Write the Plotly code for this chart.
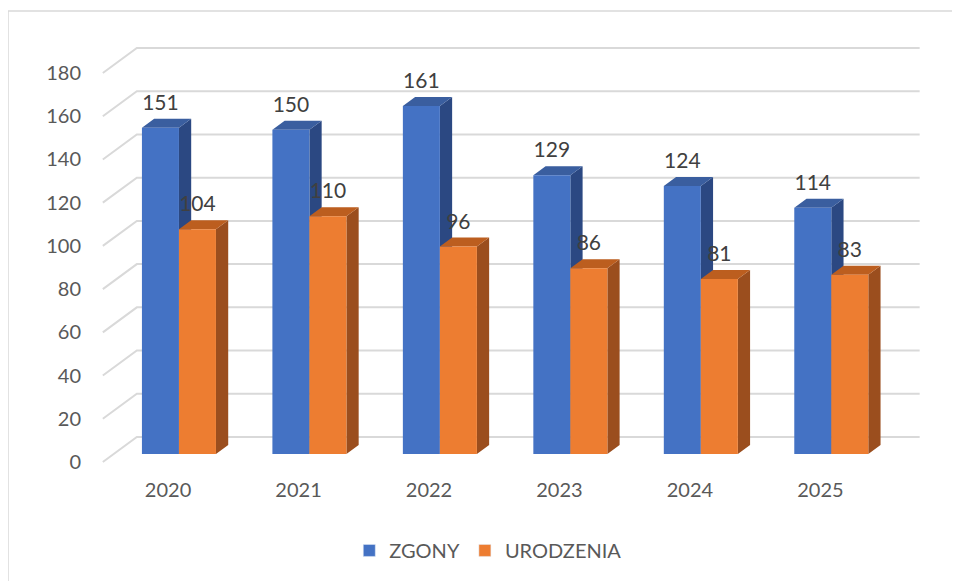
import plotly.graph_objects as go

# data
years = ["2020", "2021", "2022", "2023", "2024", "2025"]
zgony = [151, 150, 161, 129, 124, 114]
urodzenia = [104, 110, 96, 86, 81, 83]
y_ticks = [0, 20, 40, 60, 80, 100, 120, 140, 160, 180]

# fake 3d geometry (category units / value units)
DEPTH_X = 0.2607      # full floor depth, x offset
DEPTH_Y = 11.57       # full floor depth, y offset
BAR_POS = 0.32        # bar front face depth (fraction)
BAR_DEPTH = 0.36      # bar thickness (fraction)
BAR_W = 0.2837

series = [
    ("ZGONY", zgony, "#4472C4", "#2B4882", "#3A5E9F", -1),
    ("URODZENIA", urodzenia, "#ED7D31", "#9B4E1E", "#BC5E1F", 1),
]

fig = go.Figure()

# back wall + side wall gridlines
gx, gy = [], []
for v in y_ticks:
    gx += [-0.5, -0.5 + DEPTH_X, len(years) - 0.5 + DEPTH_X, None]
    gy += [v, v + DEPTH_Y, v + DEPTH_Y, None]
fig.add_trace(go.Scatter(x=gx, y=gy, mode="lines", line=dict(color="#D9D9D9", width=2),
                         hoverinfo="skip", showlegend=False))

bx0 = BAR_POS * DEPTH_X
by0 = BAR_POS * DEPTH_Y
ddx = BAR_DEPTH * DEPTH_X
ddy = BAR_DEPTH * DEPTH_Y

# bars: side, top, then front face, series by series (painter's order)
for name, vals, c_front, c_side, c_top, side in series:
    fx, fy, sx, sy, tx, ty = [], [], [], [], [], []
    for i, v in enumerate(vals):
        xl = i + bx0 - BAR_W if side < 0 else i + bx0
        xr = xl + BAR_W
        b = by0
        t = by0 + v
        fx += [xl, xr, xr, xl, xl, None]
        fy += [b, b, t, t, b, None]
        sx += [xr, xr + ddx, xr + ddx, xr, xr, None]
        sy += [b, b + ddy, t + ddy, t, b, None]
        tx += [xl, xr, xr + ddx, xl + ddx, xl, None]
        ty += [t, t, t + ddy, t + ddy, t, None]
    fig.add_trace(go.Scatter(x=sx, y=sy, mode="lines", fill="toself", fillcolor=c_side,
                             line=dict(width=0), hoverinfo="skip", showlegend=False))
    fig.add_trace(go.Scatter(x=tx, y=ty, mode="lines", fill="toself", fillcolor=c_top,
                             line=dict(width=0), hoverinfo="skip", showlegend=False))
    fig.add_trace(go.Scatter(x=fx, y=fy, mode="lines", fill="toself", fillcolor=c_front,
                             line=dict(width=0), hoverinfo="skip", showlegend=False))

# data labels
for name, vals, c_front, c_side, c_top, side in series:
    cx = [i + bx0 + side * BAR_W / 2 for i in range(len(vals))]
    cy = [by0 + v + ddy + 6.6 for v in vals]
    fig.add_trace(go.Scatter(x=cx, y=cy, mode="text", text=[str(v) for v in vals],
                             textposition="middle center",
                             textfont=dict(family="Lato", size=21, color="#404040"),
                             hoverinfo="skip", showlegend=False))

# legend entries
for name, vals, c_front, c_side, c_top, side in series:
    fig.add_trace(go.Bar(x=[None], y=[None], name=name, marker_color=c_front))

fig.update_layout(
    width=960, height=581,
    margin=dict(l=87, r=38, t=25, b=113),
    paper_bgcolor="white", plot_bgcolor="white",
    font=dict(family="Lato", size=20, color="#595959"),
    xaxis=dict(range=[-0.56, 5.84], tickvals=list(range(len(years))), ticktext=years,
               showgrid=False, zeroline=False, showline=False,
               ticks="", fixedrange=True),
    yaxis=dict(range=[-6.48, 198.52], tickvals=y_ticks,
               showgrid=False, zeroline=False, showline=False,
               ticks="outside", ticklen=9, tickcolor="rgba(0,0,0,0)", fixedrange=True),
    legend=dict(orientation="h", x=0.471, y=-0.168, xanchor="center", yanchor="middle",
                font=dict(size=20, color="#595959")),
    showlegend=True,
    shapes=[dict(type="rect", xref="paper", yref="paper", x0=-0.1042, y0=-0.3, x1=1.1, y1=1.0497,
                 line=dict(color="#D9D9D9", width=1.5), layer="below")],
)

fig.write_html("out.html")
